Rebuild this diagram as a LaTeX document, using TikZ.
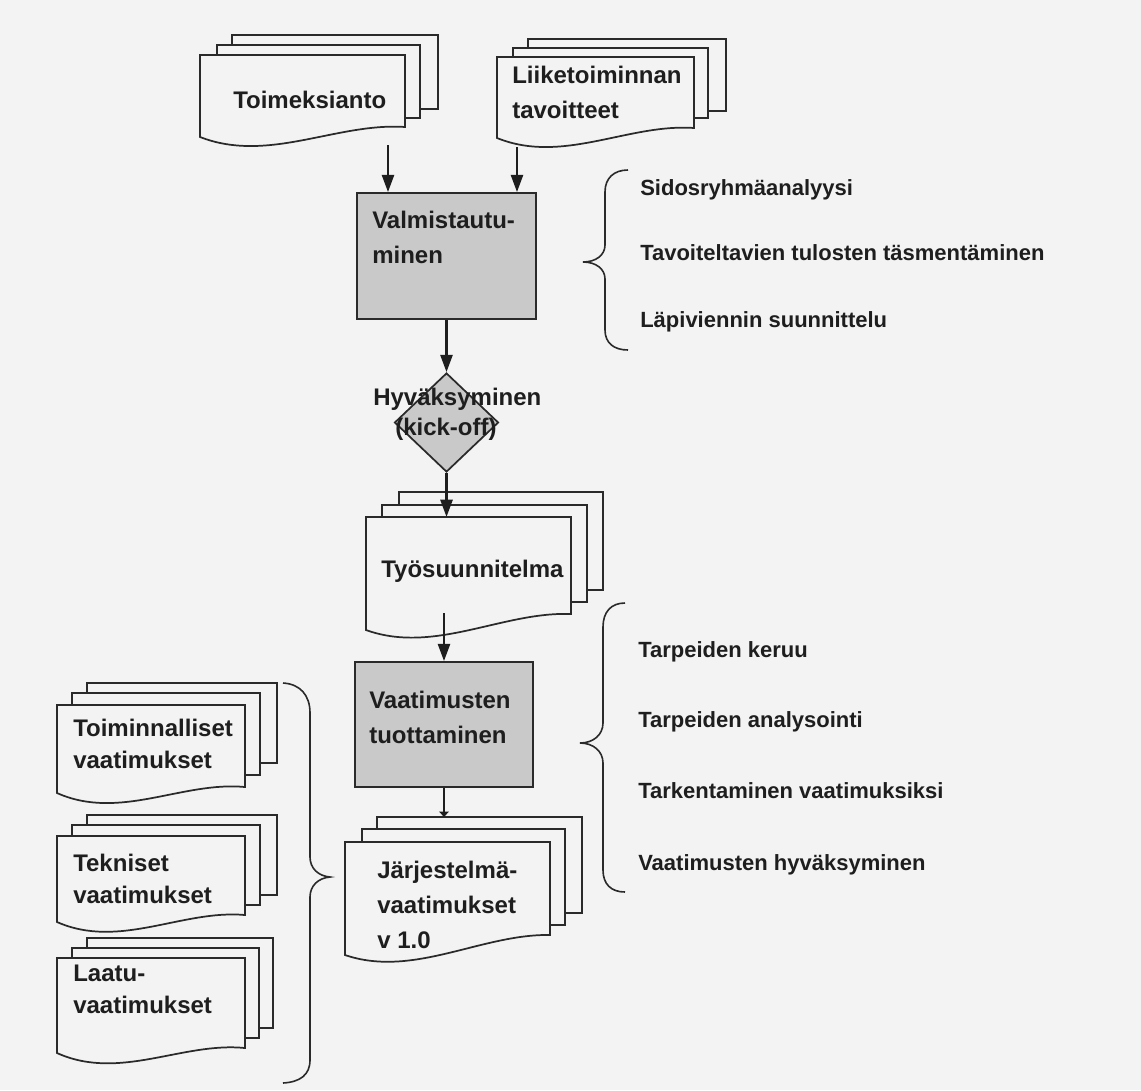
\documentclass[tikz,border=0pt]{standalone}
\usepackage{fontspec}
\setmainfont{Liberation Sans}
\usetikzlibrary{arrows.meta,shapes.geometric,calc}
\definecolor{paper}{HTML}{F3F3F3}
\definecolor{ink}{HTML}{1E1E1E}
\definecolor{shade}{HTML}{C9C9C9}
\definecolor{edge}{HTML}{2A2A2A}

% a plain sheet lying behind a document
\newcommand\backsheet[4]{\draw[sheet] (#1,#2) rectangle (#3,#4);}
% the front sheet of a document: left, top, right, bottom at right, bottom at left
\newcommand\frontsheet[5]{%
  \draw[sheet] (#1,#5) -- (#1,#2) -- (#3,#2) -- (#3,#4)
    .. controls ($(#3,#4)!1/3!(#1,#5)+(0,-8)$) and ($(#3,#4)!2/3!(#1,#5)+(0,30)$) .. (#1,#5) -- cycle;}

\begin{document}
\begin{tikzpicture}[x=0.75pt,y=-0.75pt,
  sheet/.style={draw=edge,line width=1.3pt,fill=paper,line join=miter},
  stepbox/.style={draw=edge,line width=1.3pt,fill=shade,inner sep=0pt},
  arr/.style={draw=ink,line width=2pt,-{Triangle[length=13pt,width=9pt]}},
  brace/.style={draw=edge,line width=1.2pt},
  % multi-line texts are placed by the baseline of their last line
  boxtxt/.style={anchor=base west,align=left,inner sep=0pt,text=ink,
    font=\fontsize{18}{26.25}\selectfont\bfseries},
  doctxt/.style={boxtxt,font=\fontsize{18}{24}\selectfont\bfseries},
  lbl/.style={anchor=base west,inner sep=0pt,text=ink,
    font=\fontsize{16.5}{20}\selectfont\bfseries}]

\fill[paper] (0,0) rectangle (1141,1090);
\useasboundingbox (0,0) rectangle (1141,1090);

% --- inputs ---
\backsheet{232}{35}{438}{109}
\backsheet{217}{45}{420}{118}
\frontsheet{200}{55}{405}{127}{137}
\node[doctxt] (toim) at (233,108) {Toimeksianto};

\backsheet{528}{39}{726}{111}
\backsheet{513}{48}{708}{118}
\frontsheet{497}{57}{694}{128}{138}
\node[boxtxt] (liike) at (512,118) {Liiketoiminnan\\tavoitteet};

% --- preparation ---
\node[stepbox,minimum width=134.25pt,minimum height=94.5pt] (valm) at (446.5,256) {};
\node[boxtxt] (valmtxt) at (372,263) {Valmistautu-\\minen};

% --- approval ---
\node[diamond,aspect=1,stepbox,minimum width=78pt,minimum height=74.25pt] (dia) at (446.5,422.5) {};
\node[boxtxt] (hyv) at (373,405) {Hyväksyminen};
\node[boxtxt] (kick) at (395,435) {(kick-off)};

% --- work plan ---
\backsheet{399}{492}{603}{590}
\backsheet{382}{505}{587}{602}
\frontsheet{366}{517}{571}{614}{630}
\node[doctxt] (tyo) at (381,577) {Työsuunnitelma};

% --- requirements production ---
\node[stepbox,minimum width=133.5pt,minimum height=93.75pt] (vaat) at (444,724.5) {};
\node[boxtxt] (vaattxt) at (369,743) {Vaatimusten\\tuottaminen};

% --- system requirements ---
\backsheet{377}{817}{582}{913}
\backsheet{362}{829}{565}{925}
\frontsheet{345}{842}{550}{935}{955}
\node[boxtxt] (jarj) at (377,948) {Järjestelmä-\\vaatimukset\\v 1.0};

% --- requirement types ---
\backsheet{87}{683}{277}{763}
\backsheet{72}{693}{260}{775}
\frontsheet{57}{705}{245}{787}{793}
\node[doctxt] (toimv) at (73,768) {Toiminnalliset\\vaatimukset};

\backsheet{87}{815}{277}{895}
\backsheet{72}{825}{260}{905}
\frontsheet{57}{836}{245}{915}{922}
\node[doctxt] (tekv) at (73,903) {Tekniset\\vaatimukset};

\backsheet{87}{938}{273}{1028}
\backsheet{72}{948}{259}{1038}
\frontsheet{57}{958}{245}{1048}{1053}
\node[doctxt] (laatv) at (73,1013) {Laatu-\\vaatimukset};

% --- connectors ---
\coordinate (toimout) at (388,145);
\coordinate (liikeout) at (517,147);
\coordinate (tyoin) at (446.5,517);
\coordinate (tyoout) at (444,613);
\coordinate (jarjin) at (444,817);
\draw[arr] (toimout) -- (toimout |- valm.north);
\draw[arr] (liikeout) -- (liikeout |- valm.north);
\draw[arr] (valm.south) -- (dia.north);
\draw[arr] (dia.south) -- (tyoin);
\draw[arr] (tyoout) -- (tyoout |- vaat.north);
\draw[draw=ink,line width=2pt,-{Triangle[length=4pt,width=7pt]}] (vaat.south) -- (jarjin);

% --- braces ---
\draw[brace] (628,170) .. controls (614,170) and (605,178) .. (605,192) -- (605,245)
  .. controls (605,255) and (596,262) .. (583,262)
  .. controls (596,262) and (605,269) .. (605,279) -- (605,330)
  .. controls (605,343) and (614,350) .. (628,350);
\draw[brace] (625,603) .. controls (611,603) and (603,612) .. (603,627) -- (603,723)
  .. controls (603,735) and (593,743) .. (580,743)
  .. controls (593,743) and (603,751) .. (603,763) -- (603,870)
  .. controls (603,884) and (611,892) .. (625,892);
\draw[brace] (283,683) .. controls (300,684) and (310,695) .. (310,713) -- (310,857)
  .. controls (310,868) and (318,876) .. (330,877)
  .. controls (318,878) and (310,886) .. (310,897) -- (310,1060)
  .. controls (310,1075) and (300,1082) .. (283,1083);

% --- activity labels ---
\node[lbl] (l1) at (640,195) {Sidosryhmäanalyysi};
\node[lbl] (l2) at (640,260) {Tavoiteltavien tulosten täsmentäminen};
\node[lbl] (l3) at (640,327) {Läpiviennin suunnittelu};
\node[lbl] (l4) at (638,657) {Tarpeiden keruu};
\node[lbl] (l5) at (638,727) {Tarpeiden analysointi};
\node[lbl] (l6) at (638,798) {Tarkentaminen vaatimuksiksi};
\node[lbl] (l7) at (638,870) {Vaatimusten hyväksyminen};
\end{tikzpicture}
\end{document}
